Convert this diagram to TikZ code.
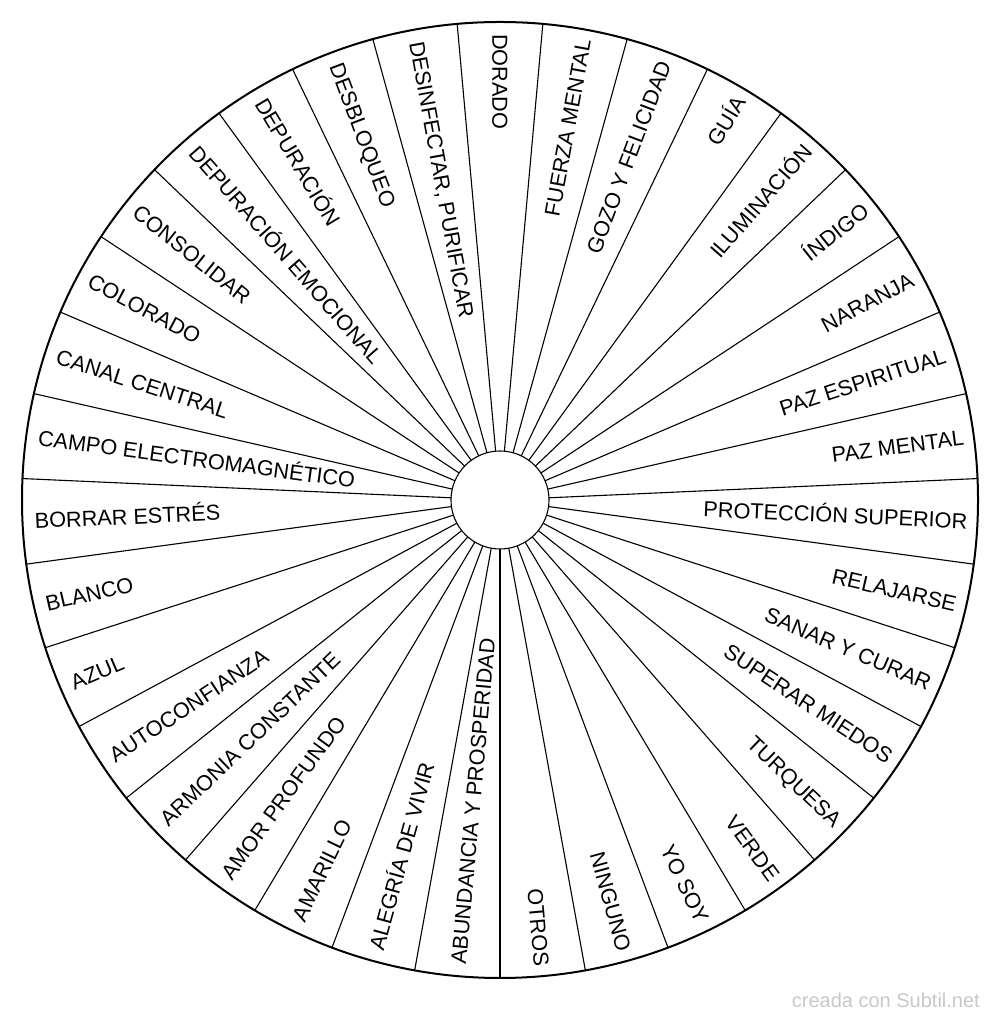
\documentclass[tikz,border=0pt]{standalone}
\usepackage{fontspec}
\setmainfont{Liberation Sans}
\usepackage{xcolor}
\definecolor{CreditGray}{RGB}{200,200,200}

\begin{document}
\begin{tikzpicture}[
    x=1pt, y=1pt,
    rim/.style={line width=2pt},
    spoke/.style={line width=1.1pt},
    lbl/.style={font=\fontsize{21.7}{26}\selectfont, inner sep=0pt, text height=15.5pt, text depth=0pt},
    credit/.style={font=\fontsize{20}{24}\selectfont, text=CreditGray, inner sep=0pt}
]
\useasboundingbox (0,0) rectangle (1000,1019);

%% ---- WHEEL ----
\coordinate (c) at (500,519);
\begin{scope}[shift={(c)}]
\draw[rim]   (0,0) circle (478);
\draw[spoke] (0,0) circle (49);
\foreach \k in {0,...,34}
  \draw[spoke] (90-5.142857-\k*10.285714:49) -- (90-5.142857-\k*10.285714:478);

%% ---- LABELS, right half (read outwards) ----
\foreach \name [count=\i from 1] in {FUERZA MENTAL, GOZO Y FELICIDAD, GUÍA, ILUMINACIÓN,
    ÍNDIGO, NARANJA, PAZ ESPIRITUAL, PAZ MENTAL, PROTECCIÓN SUPERIOR, RELAJARSE,
    SANAR Y CURAR, SUPERAR MIEDOS, TURQUESA, VERDE, YO SOY, NINGUNO, OTROS}
{
  \pgfmathsetmacro\a{90-\i*360/35}
  \node[lbl, anchor=east, rotate=\a] (lbl-\i) at (\a:468) {\name};
}

%% ---- LABELS, left half (read inwards) ----
\foreach \name [count=\i from 18] in {ABUNDANCIA Y PROSPERIDAD, ALEGRÍA DE VIVIR, AMARILLO,
    AMOR PROFUNDO, ARMONIA CONSTANTE, AUTOCONFIANZA, AZUL, BLANCO, BORRAR ESTRÉS,
    CAMPO ELECTROMAGNÉTICO, CANAL CENTRAL, COLORADO, CONSOLIDAR, DEPURACIÓN EMOCIONAL,
    DEPURACIÓN, DESBLOQUEO, {DESINFECTAR, PURIFICAR}, DORADO}
{
  \pgfmathsetmacro\a{90-\i*360/35}
  \node[lbl, anchor=west, rotate=\a+180] (lbl-\i) at (\a:466) {\name};
}
\end{scope}

%% ---- CREDIT ----
\node[credit, anchor=base east] (credit) at (980,12) {creada con Subtil.net};

\end{tikzpicture}
\end{document}
